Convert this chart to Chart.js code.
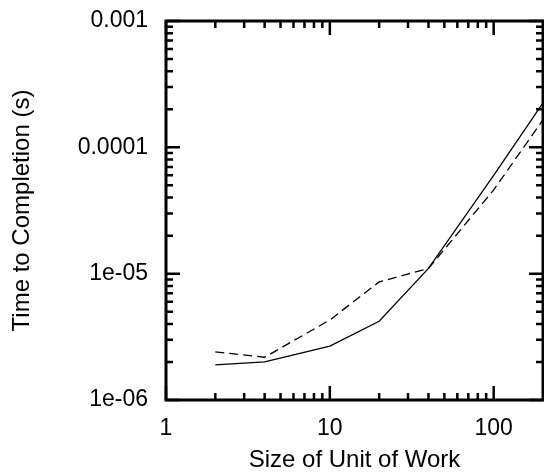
<!DOCTYPE html>
<html>
<head>
<meta charset="utf-8">
<script src="https://cdn.jsdelivr.net/npm/chart.js@4.4.0/dist/chart.umd.min.js"></script>
<style>
    html, body { margin: 0; padding: 0; background: #fff; }
    canvas { display: block; }
</style>
</head>
<body>
<canvas id="timeChart" width="544" height="472"></canvas>
<script>
// --- Data ---
const unitSizes = [2, 4, 10, 20, 40, 100, 200];
const solidTimes = [1.9e-6, 2.0e-6, 2.67e-6, 4.2e-6, 1.1e-5, 6.0e-5, 2.25e-4];
const dashedTimes = [2.4e-6, 2.18e-6, 4.3e-6, 8.6e-6, 1.1e-5, 4.6e-5, 1.65e-4];

const xTickValues = [1, 10, 100];
const xTickLabels = ['1', '10', '100'];
const yTickValues = [1e-6, 1e-5, 1e-4, 1e-3];
const yTickLabels = ['1e-06', '1e-05', '0.0001', '0.001'];

const FONT = "'Liberation Sans', Arial, Helvetica, sans-serif";

function toPoints(xs, ys) {
    return xs.map(function (x, i) { return { x: x, y: ys[i] }; });
}

// draws the frame and the inward ticks on all four sides
const frameTicks = {
    id: 'frameTicks',
    afterDatasetsDraw: function (chart) {
        const ctx = chart.ctx;
        const a = chart.chartArea;
        const xs = chart.scales.x;
        const ys = chart.scales.y;
        const major = 14, minor = 7;

        ctx.save();
        ctx.strokeStyle = '#000';
        ctx.lineWidth = 2.5;
        ctx.lineCap = 'butt';

        function xTick(v, len) {
            const px = xs.getPixelForValue(v);
            ctx.beginPath();
            ctx.moveTo(px, a.bottom); ctx.lineTo(px, a.bottom - len);
            ctx.moveTo(px, a.top); ctx.lineTo(px, a.top + len);
            ctx.stroke();
        }
        function yTick(v, len) {
            const py = ys.getPixelForValue(v);
            ctx.beginPath();
            ctx.moveTo(a.left, py); ctx.lineTo(a.left + len, py);
            ctx.moveTo(a.right, py); ctx.lineTo(a.right - len, py);
            ctx.stroke();
        }

        // minor ticks at 2..9 of every decade inside the range
        for (let d = xs.min; d < xs.max; d *= 10) {
            for (let k = 2; k <= 9; k++) {
                const v = d * k;
                if (v < xs.max) xTick(v, minor);
            }
        }
        for (let d = ys.min; d < ys.max; d *= 10) {
            for (let k = 2; k <= 9; k++) {
                const v = d * k;
                if (v < ys.max) yTick(v, minor);
            }
        }
        xTickValues.forEach(function (v) { xTick(v, major); });
        yTickValues.forEach(function (v) { yTick(v, major); });

        ctx.lineWidth = 3;
        ctx.strokeRect(a.left, a.top, a.right - a.left, a.bottom - a.top);
        ctx.restore();
    }
};

const ctx = document.getElementById('timeChart').getContext('2d');
const chart = new Chart(ctx, {
    type: 'scatter',
    data: {
        datasets: [{
            label: 'solid',
            data: toPoints(unitSizes, solidTimes),
            showLine: true,
            borderColor: '#000',
            borderWidth: 1.3,
            pointRadius: 0,
            fill: false
        }, {
            label: 'dashed',
            data: toPoints(unitSizes, dashedTimes),
            showLine: true,
            borderColor: '#000',
            borderWidth: 1.3,
            borderDash: [9, 5],
            pointRadius: 0,
            fill: false
        }]
    },
    options: {
        responsive: false,
        animation: false,
        layout: { padding: { top: 21, right: 1, left: 0, bottom: 0 } },
        plugins: { legend: { display: false }, tooltip: { enabled: false } },
        scales: {
            x: {
                type: 'logarithmic',
                min: 1,
                max: 200,
                grid: { display: false, drawTicks: false },
                border: { display: false },
                afterBuildTicks: function (scale) {
                    scale.ticks = xTickValues.map(function (v) { return { value: v }; });
                },
                afterFit: function (scale) {
                    scale.height = 72;
                    scale.paddingLeft = 0;
                    scale.paddingRight = 0;
                },
                ticks: {
                    autoSkip: false,
                    maxRotation: 0,
                    padding: 15,
                    color: '#000',
                    font: { family: FONT, size: 23 },
                    callback: function (value) {
                        const i = xTickValues.indexOf(value);
                        return i >= 0 ? xTickLabels[i] : '';
                    }
                },
                title: {
                    display: true,
                    text: 'Size of Unit of Work',
                    color: '#000',
                    font: { family: FONT, size: 24, lineHeight: 1 },
                    padding: { top: 0, bottom: 0 }
                }
            },
            y: {
                type: 'logarithmic',
                min: 1e-6,
                max: 1e-3,
                grid: { display: false, drawTicks: false },
                border: { display: false },
                afterBuildTicks: function (scale) {
                    scale.ticks = yTickValues.map(function (v) { return { value: v }; });
                },
                afterFit: function (scale) {
                    scale.width = 166;
                    scale.paddingTop = 0;
                    scale.paddingBottom = 0;
                },
                ticks: {
                    autoSkip: false,
                    padding: 18,
                    color: '#000',
                    font: { family: FONT, size: 23 },
                    callback: function (value) {
                        const i = yTickValues.indexOf(value);
                        return i >= 0 ? yTickLabels[i] : '';
                    }
                },
                title: {
                    display: true,
                    text: 'Time to Completion (s)',
                    color: '#000',
                    font: { family: FONT, size: 24, lineHeight: 1 },
                    padding: { top: 10, bottom: 0 }
                }
            }
        }
    },
    plugins: [frameTicks]
});
</script>
</body>
</html>
